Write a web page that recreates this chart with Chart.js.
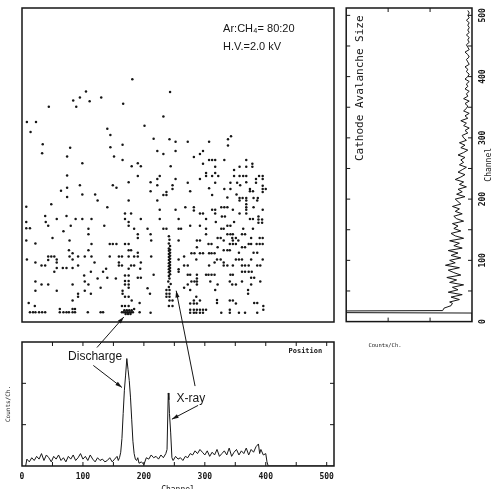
<!DOCTYPE html>
<html>
<head>
<meta charset="utf-8">
<script src="https://cdn.jsdelivr.net/npm/chart.js@4.4.0/dist/chart.umd.min.js"></script>
<style>
  body { margin: 0; background: #fff; width: 496px; height: 489px; overflow: hidden; position: relative; }
  canvas { position: absolute; }
  #main, #pos { left: 0; top: 0; }
  /* avalanche spectrum is drawn lying down and turned a quarter turn */
  #aval { left: 251px; top: 85px; transform: rotate(-90deg); }
</style>
</head>
<body>
<canvas id="main" width="496" height="489"></canvas>
<canvas id="pos" width="496" height="489"></canvas>
<canvas id="aval" width="330" height="160"></canvas>
<script>
const ink = '#161616';
const mono = '"DejaVu Sans Mono", monospace';
const sans = '"Liberation Sans", Arial, sans-serif';

// position spectrum (bottom panel)
const posChannel = [6,8,12,16,20,24,28,32,36,40,44,48,52,56,60,64,68,72,76,80,84,88,92,96,100,104,108,112,116,120,124,128,132,136,140,144,148,152,156,158,160,
  162,164,166,168,170,172,174,176,178,180,182,184,186,188,190,192,196,200,204,208,212,216,220,224,228,232,236,238,240,241,242,244,246,248,
  252,256,260,264,268,272,276,280,284,288,292,296,300,304,308,312,316,320,324,328,332,336,340,344,348,352,356,360,364,368,372,376,380,384,388,
  390,392,396,400,402,404,512];
const posCounts = [0,5,3,6,4,7,5,9,4,8,6,3,7,5,8,4,6,3,7,5,8,4,6,9,5,7,4,8,5,3,6,4,5,3,4,6,3,5,7,4,6,
  10,20,38,55,66,78,70,62,50,34,18,9,5,4,6,2,3,1,6,5,8,6,7,5,8,6,9,12,53,48,38,24,6,4,
  7,5,6,4,7,6,9,8,11,9,12,10,8,11,7,10,8,12,7,9,11,8,13,7,10,12,8,11,9,13,8,12,10,14,16,
  9,12,8,9,3,0,0];

// cathode avalanche size spectrum (right panel)
const avalChannel = [0,14,15,17,18,22,26,30,32,36,40,44,48,52,56,60,64,68,72,76,80,84,88,92,96,100,
  104,108,112,116,120,124,128,132,136,140,144,148,152,156,160,164,168,172,176,180,184,188,192,196,200,
  204,208,212,216,220,224,228,232,236,240,244,248,252,256,260,264,268,272,276,280,284,288,292,296,300,
  304,308,312,316,320,324,328,332,336,340,344,348,352,356,360,364,368,372,376,380,384,388,392,396,400,
  404,408,412,416,420,424,428,432,436,440,444,448,452,456,460,464,468,472,476,480,484,488,492,496,500,504,508];
const avalCounts = [0,0,140,140,21,20,15,14,16,9,15,7,17,10,14,6,16,11,18,8,13,17,9,19,12,16,
  8,15,10,17,7,13,9,16,6,12,15,8,13,10,14,6,11,13,7,12,9,14,8,10,12,
  5,11,7,10,4,9,6,12,8,5,10,7,4,9,6,8,5,10,6,3,8,5,9,4,6,
  7,3,5,2,6,4,8,3,5,2,6,4,3,5,2,6,3,4,2,5,3,4,2,5,3,
  2,4,3,5,2,3,4,2,3,5,2,3,4,2,3,2,4,2,3,2,3,2,4,2,3,2,3];

// events: [position channel, avalanche size channel]
const events = [
  [181,396],[105,376],[95,366],[84,361],[111,360],[130,366],[89,351],[44,351],[166,356],[8,326],[23,326],[14,310],[201,320],
  [140,315],[145,305],[34,290],[33,275],[79,284],[145,285],[165,289],[74,270],[151,270],[99,259],[165,264],[190,259],[180,254],
  [195,254],[74,239],[190,238],[95,223],[149,223],[155,219],[175,228],[74,219],[64,214],[99,208],[120,208],[74,204],
  [243,375],[232,335],[216,299],[242,298],[252,294],[272,294],[307,294],[343,303],[338,298],[338,288],[222,279],[232,274],
  [252,279],[297,279],[292,274],[282,269],[307,264],[312,264],[317,264],[332,264],[368,264],[297,258],[378,258],[378,253],
  [244,254],[317,253],[357,253],[368,253],[348,248],[226,238],[302,243],[317,243],[302,238],[312,238],[322,238],[348,238],
  [357,238],[363,238],[368,238],[389,238],[395,238],[384,233],[395,233],[211,228],[222,233],[252,233],[292,233],[272,227],
  [317,227],[342,227],[353,227],[368,228],[384,227],[222,223],[247,223],[247,217],[307,218],[332,217],[342,217],[358,223],
  [374,217],[395,222],[395,217],[400,217],[211,213],[237,212],[276,213],[232,207],[237,207],[312,207],[352,208],[374,213],
  [379,213],[395,212],[337,203],[357,202],[362,202],[368,202],[380,202],[387,202],[357,198],[368,198],[386,198],[222,198],
  [124,198],[175,198],[48,192],[7,188],[140,187],[169,177],[179,177],[38,173],[57,168],[73,173],[88,168],[99,168],[114,168],
  [169,168],[195,168],[7,163],[39,163],[43,157],[80,157],[135,157],[175,163],[175,157],[7,153],[13,153],[109,152],[184,152],
  [68,148],[109,143],[190,143],[190,137],[50,137],[78,133],[7,133],[22,128],[144,127],[149,127],[155,127],[169,127],[175,127],
  [114,127],[175,117],[179,117],[77,117],[109,117],[190,113],[190,107],[83,112],[43,107],[48,107],[53,107],[78,107],[92,107],
  [103,107],[114,107],[144,107],[159,107],[164,107],[175,107],[184,107],[8,102],[43,101],[57,102],[83,102],[22,97],[57,97],
  [119,97],[195,97],[32,92],[38,92],[92,92],[159,97],[159,92],[164,92],[57,88],[67,88],[73,88],[83,88],[53,82],[113,82],
  [133,82],[138,87],[175,87],[179,92],[184,92],[194,87],[169,76],[175,76],[102,76],[124,71],[154,71],[140,72],[190,72],
  [195,72],[22,66],[169,67],[175,67],[32,61],[43,61],[83,61],[103,66],[109,61],[129,56],[169,61],[175,61],[22,51],[57,51],
  [103,51],[175,56],[92,46],[113,46],[165,51],[165,46],[92,41],[169,41],[175,41],[83,35],[180,35],[11,31],[21,26],[193,31],
  [62,21],[83,21],[87,21],[13,16],[18,16],[22,16],[28,16],[33,16],[38,16],[62,16],[68,16],[73,16],[77,16],[83,16],[87,16],
  [108,16],[129,16],[133,16],[164,26],[169,26],[175,26],[164,16],[167,16],[170,16],[173,16],[176,16],[179,16],[182,16],
  [168,19],[172,19],[176,19],[180,19],[170,13],[174,13],[178,13],[184,21],[193,16],
  [268,187],[282,187],[282,182],[327,187],[332,187],[337,187],[226,183],[252,183],[312,183],[317,183],[346,183],[368,192],
  [368,187],[368,183],[380,187],[395,183],[292,177],[297,177],[317,177],[328,172],[333,172],[357,177],[368,177],[388,172],
  [388,167],[394,167],[388,162],[394,162],[226,168],[257,168],[302,168],[318,163],[374,168],[379,168],[348,163],
  [206,152],[232,152],[237,152],[257,152],[261,152],[276,157],[292,157],[302,152],[337,157],[342,157],[327,152],[331,152],
  [363,152],[379,152],[211,143],[302,143],[337,143],[342,143],[346,143],[361,143],[366,143],[390,137],[395,137],[321,137],
  [326,137],[345,137],[351,137],[376,137],[212,133],[257,133],[287,133],[292,133],[331,133],[346,133],[355,133],
  [306,127],[311,127],[341,127],[346,127],[351,127],[372,127],[376,127],[385,127],[390,127],[395,127],
  [287,122],[321,122],[361,122],[366,122],
  [241,140],[242,134],[241,128],[243,124],[241,120],[243,118],[241,116],[243,113],[241,111],[243,108],[241,106],[243,103],
  [241,101],[243,98],[241,96],[243,93],[241,91],[243,88],[241,86],[243,83],[241,81],[243,78],[241,75],[242,71],[240,66],
  [244,62],[241,57],[237,52],[242,52],[237,46],[242,46],[237,41],[242,41],[242,35],[247,35],[241,26],[247,26],
  [278,112],[283,112],[266,107],[292,112],[297,112],[307,112],[311,112],[316,112],[331,117],[337,117],[341,117],[356,113],
  [380,113],[386,113],[212,107],[257,102],[286,102],[320,102],[326,102],[351,102],[356,102],[361,102],[376,102],[395,102],
  [266,92],[272,92],[307,92],[316,97],[331,97],[331,92],[337,92],[346,92],[361,92],[366,92],[372,92],[386,92],[391,92],
  [257,86],[257,82],[216,77],[287,77],[287,71],[272,77],[276,77],[302,77],[306,77],[311,77],[316,77],[342,77],[346,77],
  [361,82],[366,82],[372,82],[377,82],[376,72],[381,72],[278,66],[283,66],[287,66],[309,66],[341,66],[361,66],[391,66],
  [272,61],[287,61],[321,61],[345,61],[351,61],[376,61],[206,55],[266,56],[276,52],[317,52],[371,52],[371,46],[210,46],
  [286,41],[282,35],[292,35],[320,36],[341,35],[346,35],[276,30],[282,30],[287,30],[320,31],[351,30],[381,31],[386,31],
  [276,20],[282,20],[287,20],[292,20],[297,20],[302,20],[276,15],[282,15],[286,15],[292,15],[297,15],[211,15],[327,15],
  [341,20],[341,15],[356,15],[366,15],[386,15],[396,26],[396,20]
];

Chart.defaults.font.family = mono;
Chart.defaults.color = ink;

// box round the plot area, with short ticks pointing inwards
const frame = {
  id: 'frame',
  defaults: { ticks: false },
  afterDatasetsDraw(chart, args, opts) {
    const ctx = chart.ctx, a = chart.chartArea;
    ctx.save();
    ctx.strokeStyle = ink;
    ctx.lineWidth = 1.5;
    ctx.strokeRect(a.left, a.top, a.right - a.left, a.bottom - a.top);
    if (opts.ticks) {
      const sx = chart.scales.x, sy = chart.scales.y;
      ctx.lineWidth = 1;
      ctx.beginPath();
      sx.ticks.forEach(t => {
        const p = sx.getPixelForValue(t.value);
        if (p <= a.left + 1 || p >= a.right - 1) return;
        ctx.moveTo(p, a.bottom); ctx.lineTo(p, a.bottom - 4);
        ctx.moveTo(p, a.top); ctx.lineTo(p, a.top + 4);
      });
      sy.ticks.forEach(t => {
        const p = sy.getPixelForValue(t.value);
        if (p <= a.top + 1 || p >= a.bottom - 1) return;
        ctx.moveTo(a.left, p); ctx.lineTo(a.left + 4, p);
        ctx.moveTo(a.right, p); ctx.lineTo(a.right - 4, p);
      });
      ctx.stroke();
    }
    ctx.restore();
  }
};
Chart.register(frame);

function arrow(ctx, from, to) {
  const ang = Math.atan2(to[1] - from[1], to[0] - from[0]);
  ctx.beginPath();
  ctx.moveTo(from[0], from[1]);
  ctx.lineTo(to[0], to[1]);
  ctx.stroke();
  ctx.beginPath();
  ctx.moveTo(to[0], to[1]);
  ctx.lineTo(to[0] - 7 * Math.cos(ang - 0.3), to[1] - 7 * Math.sin(ang - 0.3));
  ctx.lineTo(to[0] - 7 * Math.cos(ang + 0.3), to[1] - 7 * Math.sin(ang + 0.3));
  ctx.closePath();
  ctx.fill();
}

const hiddenAxis = (min, max) => ({ type: 'linear', display: false, min: min, max: max });

// scatter of avalanche size against position
const scatterChart = new Chart(document.getElementById('main'), {
  type: 'scatter',
  data: {
    datasets: [{
      data: events.map(e => ({ x: e[0], y: e[1] })),
      pointRadius: 1.25,
      pointBorderWidth: 0,
      pointBackgroundColor: ink
    }]
  },
  options: {
    responsive: false,
    animation: false,
    layout: { padding: { left: 22, top: 8, right: 162, bottom: 167 } },
    scales: { x: hiddenAxis(0, 512), y: hiddenAxis(0, 512) },
    plugins: { legend: { display: false }, tooltip: { enabled: false } }
  },
  plugins: [{
    id: 'gasText',
    afterDraw(chart) {
      const ctx = chart.ctx, sx = chart.scales.x, sy = chart.scales.y;
      ctx.save();
      ctx.fillStyle = ink;
      ctx.font = '11px ' + sans;
      ctx.textBaseline = 'middle';
      ctx.fillText('Ar:CH\u2084= 80:20', sx.getPixelForValue(330), sy.getPixelForValue(477));
      ctx.fillText('H.V.=2.0 kV', sx.getPixelForValue(330), sy.getPixelForValue(449));
      ctx.font = '5.5px ' + mono;
      ctx.textAlign = 'center';
      ctx.fillText('Counts/Ch.', 385, 346);
      ctx.restore();
    }
  }]
});

// position spectrum with the annotation arrows
new Chart(document.getElementById('pos'), {
  type: 'scatter',
  data: {
    datasets: [{
      data: posChannel.map((c, i) => ({ x: c, y: posCounts[i] })),
      showLine: true,
      borderColor: ink,
      borderWidth: 1,
      pointRadius: 0,
      tension: 0
    }]
  },
  options: {
    responsive: false,
    animation: false,
    layout: { padding: { left: 0, top: 342, right: 162, bottom: 0 } },
    scales: {
      x: {
        type: 'linear', min: 0, max: 512,
        grid: { display: false, drawTicks: false }, border: { display: false },
        ticks: { stepSize: 50, includeBounds: false, autoSkip: false, maxRotation: 0, padding: 6,
                 font: { size: 8, weight: 'bold' }, callback: v => v % 100 === 0 ? v : '' },
        title: { display: true, text: 'Channel', font: { size: 8 }, padding: { top: 0, bottom: -6 } },
        afterFit: s => { s.height = 23; }
      },
      y: {
        type: 'linear', min: 0, max: 90,
        grid: { display: false, drawTicks: false }, border: { display: false },
        ticks: { stepSize: 30, includeBounds: false, callback: () => '' },
        title: { display: true, text: 'Counts/Ch.', font: { size: 6 }, padding: { top: 5, bottom: 0 } },
        afterFit: s => { s.width = 22; }
      }
    },
    plugins: { legend: { display: false }, tooltip: { enabled: false }, frame: { ticks: true } }
  },
  plugins: [{
    id: 'notes',
    afterDraw(chart) {
      const ctx = chart.ctx, bx = chart.scales.x, by = chart.scales.y;
      const sx = scatterChart.scales.x, sy = scatterChart.scales.y;
      const P = (x, y) => [bx.getPixelForValue(x), by.getPixelForValue(y)];
      const S = (x, y) => [sx.getPixelForValue(x), sy.getPixelForValue(y)];
      ctx.save();
      ctx.strokeStyle = ink;
      ctx.fillStyle = ink;
      ctx.lineWidth = 1;
      arrow(ctx, P(123, 86), S(167, 8));
      arrow(ctx, P(117, 73), P(164, 57));
      arrow(ctx, P(284, 58), S(253, 51));
      arrow(ctx, P(289, 44), P(246, 34));
      ctx.font = '12px ' + sans;
      ctx.textAlign = 'center';
      ctx.textBaseline = 'middle';
      ctx.fillText('Discharge', ...P(120, 79));
      ctx.fillText('X-ray', ...P(277, 49));
      ctx.font = 'bold 7px ' + mono;
      ctx.fillText('Position', ...P(465, 83));
      ctx.restore();
    }
  }]
});

// avalanche size spectrum (canvas is turned by css)
new Chart(document.getElementById('aval'), {
  type: 'scatter',
  data: {
    datasets: [{
      data: avalChannel.map((c, i) => ({ x: c, y: avalCounts[i] })),
      showLine: true,
      borderColor: ink,
      borderWidth: 1,
      pointRadius: 0,
      tension: 0
    }]
  },
  options: {
    responsive: false,
    animation: false,
    layout: { padding: { left: 6, top: 7, right: 8, bottom: 0 } },
    scales: {
      x: {
        type: 'linear', min: 0, max: 512,
        grid: { display: false, drawTicks: false }, border: { display: false },
        ticks: { stepSize: 50, includeBounds: false, autoSkip: false, maxRotation: 0, padding: 6,
                 font: { size: 8, weight: 'bold' }, callback: v => v % 100 === 0 ? v : '' },
        title: { display: true, text: 'Channel', font: { size: 8 }, padding: { top: 0, bottom: 2 } },
        afterFit: s => { s.height = 24; }
      },
      y: {
        type: 'linear', min: 0, max: 90,
        grid: { display: false, drawTicks: false }, border: { display: false },
        ticks: { stepSize: 30, includeBounds: false, callback: () => '' },
        afterFit: s => { s.width = 0; }
      }
    },
    plugins: { legend: { display: false }, tooltip: { enabled: false }, frame: { ticks: true } }
  },
  plugins: [{
    id: 'avalTitle',
    afterDraw(chart) {
      const ctx = chart.ctx;
      ctx.save();
      ctx.fillStyle = ink;
      ctx.font = '11px ' + mono;
      ctx.textAlign = 'center';
      ctx.textBaseline = 'middle';
      ctx.fillText('Cathode Avalanche Size', chart.scales.x.getPixelForValue(381), chart.scales.y.getPixelForValue(80));
      ctx.restore();
    }
  }]
});
</script>
</body>
</html>
